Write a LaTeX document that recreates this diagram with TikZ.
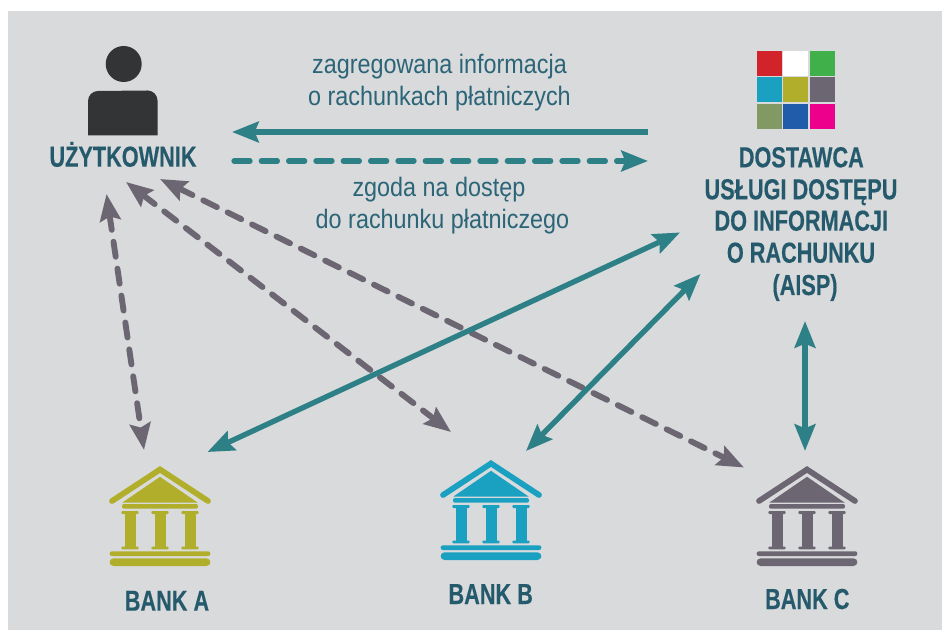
\documentclass[tikz,border=0pt]{standalone}
\usepackage{fontspec}
\setmainfont{Liberation Sans}
\newfontfamily\narrowreg[FakeStretch=0.877]{Liberation Sans}
\newfontfamily\narrowbold[FakeStretch=0.75,FakeBold=0.3]{Liberation Sans Bold}
\usetikzlibrary{arrows.meta}
\definecolor{bgc}{HTML}{D9DADC}
\definecolor{teal}{HTML}{2E8087}
\definecolor{greyv}{HTML}{6C6672}
\definecolor{titlec}{HTML}{255A6C}
\definecolor{textc}{HTML}{2B6577}
\definecolor{dark}{HTML}{333436}
\definecolor{olivec}{HTML}{B0AE2B}
\definecolor{cyanc}{HTML}{1AA0C0}
\tikzset{
  headtip/.tip={Stealth[length=20pt,width=15.5pt,inset=3pt]},
  solidarrow/.style={draw=teal,line width=4pt,headtip-headtip},
  solidone/.style={draw=teal,line width=4pt,-headtip},
  tealdash/.style={draw=teal,line width=4pt,line cap=round,dash pattern=on 12pt off 8.5pt,-headtip},
  greydash/.style={draw=greyv,line width=4.4pt,line cap=round,dash pattern=on 11.4pt off 9pt,headtip-headtip},
  title/.style={text=titlec,font=\narrowbold\fontsize{21.7pt}{24pt}\selectfont,align=center,inner sep=0pt,anchor=base},
  caption/.style={text=textc,font=\narrowreg\fontsize{20pt}{23pt}\selectfont,align=center,inner sep=0pt,anchor=base},
  gridcell/.style={minimum width=18.9pt,minimum height=18.9pt,inner sep=0pt,anchor=north west,draw=none}
}
\newcommand{\bankicon}[3]{%
  \begin{scope}[shift={(#1,#2)}]
    \draw[#3,line width=4.3pt,line cap=round,line join=miter] (-48,35) -- (0,3.5) -- (48,35);
    \fill[#3] (0,10.8) -- (37.5,36.5) -- (-37.5,36.5) -- cycle;
    \fill[#3,rounded corners=1.5pt] (-38,38) rectangle (38,42.7);
    \foreach \c in {-30,0,30}{
      \fill[#3,rounded corners=0.8pt] (\c-8.6,45) rectangle (\c+8.6,48);
      \fill[#3] (\c-5.5,47) rectangle (\c+5.5,81);
      \fill[#3,rounded corners=0.8pt] (\c-8.6,80.5) rectangle (\c+8.6,83.3);
    }
    \fill[#3,rounded corners=1.7pt] (-50.4,85.3) rectangle (50.4,90);
    \fill[#3,rounded corners=3pt] (-50.4,92.3) rectangle (50.4,100);
  \end{scope}}
\begin{document}
\begin{tikzpicture}[x=0.75pt,y=-0.75pt]
\useasboundingbox (0,0) rectangle (942,630);
\fill[white] (0,0) rectangle (942,630);
\fill[bgc] (8,11) rectangle (942,630);
% person
\fill[dark] (123.7,64) circle[radius=13.5pt];
\fill[dark] (88,135.5) -- (88,101) arc[start angle=180,end angle=90,radius=7.5pt] -- (147.5,90.5) arc[start angle=90,end angle=0,radius=7.5pt] -- (157.5,135.5) -- cycle;
\node[title] (user) at (123,166.7) {UŻYTKOWNIK};
% grid
\node[gridcell,fill={rgb,255:red,210;green,35;blue,42}] (g1) at (757,51) {};
\node[gridcell,fill=white] (g2) at (783,51) {};
\node[gridcell,fill={rgb,255:red,64;green,176;blue,74}] (g3) at (810,51) {};
\node[gridcell,fill=cyanc] (g4) at (757,77) {};
\node[gridcell,fill=olivec] (g5) at (783,77) {};
\node[gridcell,fill=greyv] (g6) at (810,77) {};
\node[gridcell,fill={rgb,255:red,131;green,153;blue,100}] (g7) at (757,104) {};
\node[gridcell,fill={rgb,255:red,32;green,92;blue,170}] (g8) at (783,104) {};
\node[gridcell,fill={rgb,255:red,236;green,0;blue,140}] (g9) at (810,104) {};
% aisp
\node[title] (aisp1) at (801.3,167.3) {DOSTAWCA};
\node[title] (aisp2) at (801,199.3) {USŁUGI DOSTĘPU};
\node[title] (aisp3) at (801.3,230.7) {DO INFORMACJI};
\node[title] (aisp4) at (801,262.7) {O RACHUNKU};
\node[title] (aisp5) at (805,295) {(AISP)};
% captions
\node[caption] (c1) at (439.5,74) {zagregowana informacja};
\node[caption] (c2) at (439.5,106) {o rachunkach płatniczych};
\node[caption] (c3) at (439,197) {zgoda na dostęp};
\node[caption] (c4) at (442.5,229) {do rachunku płatniczego};
% banks
\bankicon{160}{466}{olivec}
\bankicon{491}{460}{cyanc}
\bankicon{807}{466}{greyv}
\node[title] (banka) at (167,610.7) {BANK A};
\node[title] (bankb) at (490.7,604) {BANK B};
\node[title] (bankc) at (807.3,609) {BANK C};
% connector ends
\coordinate (s1) at (648,132);
\coordinate (t1) at (232,132);
\coordinate (s2) at (234,161);
\coordinate (t2) at (648,161);
\coordinate (ua) at (106.5,194);
\coordinate (au) at (144,450);
\coordinate (ub) at (126,182);
\coordinate (bu) at (451,432);
\coordinate (uc) at (160,179);
\coordinate (cu) at (744,467.5);
\coordinate (ap1) at (680,232.5);
\coordinate (pa) at (207.5,452);
\coordinate (ap2) at (700.5,274);
\coordinate (pb) at (526,451);
\coordinate (ap3) at (805,321);
\coordinate (pc) at (805,451);
% connectors
\draw[solidone] (s1) -- (t1);
\draw[tealdash] (s2) -- (t2);
\draw[greydash] (ua) -- (au);
\draw[greydash] (ub) -- (bu);
\draw[greydash] (uc) -- (cu);
\draw[solidarrow] (ap1) -- (pa);
\draw[solidarrow] (ap2) -- (pb);
\draw[solidarrow] (ap3) -- (pc);
\end{tikzpicture}
\end{document}
